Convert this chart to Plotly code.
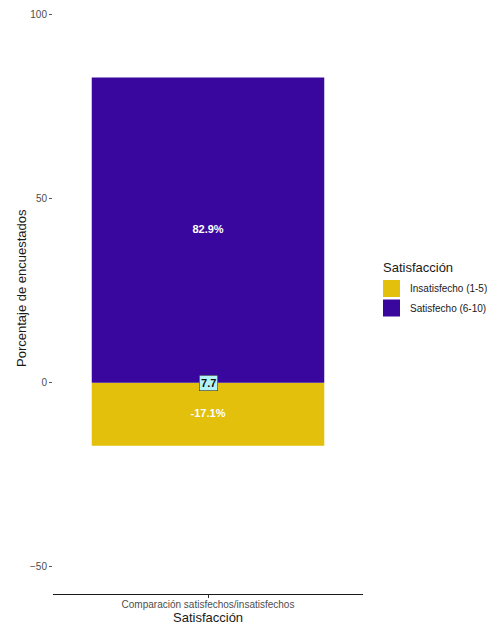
import plotly.graph_objects as go

categories = ["Comparación satisfechos/insatisfechos"]
groups = ["Insatisfecho (1-5)", "Satisfecho (6-10)"]
values = [-17.1, 82.9]
colors = ["#E2C00B", "#3A079E"]
net_label = "7.7"
y_ticks = [-50, 0, 50, 100]

OFF = 8  # page body margin of the browser
W, H = 495 - OFF, 624 - OFF
L, R, T, B = 53 - OFF, 363 - OFF, 0, 594 - OFF  # plot area in figure pixels

def px(x):
    x -= OFF
    return (x - L) / (R - L)

def py(y):
    y -= OFF
    return (B - y) / (B - T)

FONT = "Liberation Sans, Arial, sans-serif"

fig = go.Figure()
for g, v, c in zip(groups, values, colors):
    fig.add_trace(go.Bar(x=categories, y=[v], name=g, marker=dict(color=c, line=dict(width=0)),
                         width=0.9, showlegend=False))

# value labels
fig.add_trace(go.Scatter(
    x=categories * len(values), y=[v / 2 for v in values],
    text=[f"{v:.1f}%" for v in values], mode="text",
    textfont=dict(color="white", size=11, family="Liberation Sans, Arial", weight="bold"),
    showlegend=False, hoverinfo="skip"))

fig.add_annotation(x=categories[0], y=0, text=f"<b>{net_label}</b>", showarrow=False,
                   bgcolor="#B3F3F7", bordercolor="#3a3a3a", borderwidth=0.6, borderpad=1.5,
                   font=dict(size=11, color="#111111", family=FONT))

# axis titles
fig.add_annotation(xref="paper", yref="paper", x=px(208), y=py(617), text="Satisfacción",
                   showarrow=False, font=dict(size=13, color="#1a1a1a", family=FONT), yanchor="middle")
fig.add_annotation(xref="paper", yref="paper", x=px(21), y=py(288), text="Porcentaje de encuestados",
                   showarrow=False, textangle=-90, font=dict(size=13, color="#1a1a1a", family=FONT),
                   xanchor="center")

# legend (manual)
fig.add_annotation(xref="paper", yref="paper", x=px(381), y=py(267), text="Satisfacción",
                   showarrow=False, xanchor="left", font=dict(size=13, color="#1a1a1a", family=FONT))
for i, (g, c) in enumerate(zip(groups, colors)):
    top = 280 + i * 19.5
    fig.add_shape(type="rect", xref="paper", yref="paper", x0=px(383), x1=px(400),
                  y0=py(top + 17), y1=py(top), fillcolor=c, line=dict(width=0))
    fig.add_annotation(xref="paper", yref="paper", x=px(408), y=py(top + 8.5), text=g,
                       showarrow=False, xanchor="left", font=dict(size=10, color="#1a1a1a", family=FONT))

fig.update_layout(
    width=W, height=H, barmode="relative",
    margin=dict(l=L, r=W - R, t=T, b=H - B, pad=0),
    plot_bgcolor="white", paper_bgcolor="white",
    font=dict(family=FONT),
    xaxis=dict(range=[-0.6, 0.6], showline=True, linecolor="#1a1a1a", linewidth=1.2,
               ticks="outside", ticklen=3, tickcolor="#333333", showgrid=False,
               ticklabelstandoff=-2,
               tickfont=dict(size=10, color="#4d4d4d", family=FONT), zeroline=False),
    yaxis=dict(range=[-57.4, 101.8], tickvals=y_ticks, ticks="outside", ticklen=3,
               tickcolor="#555555", showgrid=False, zeroline=False, showline=False,
               tickfont=dict(size=10, color="#4d4d4d", family=FONT)),
)

fig.write_html("out.html")
